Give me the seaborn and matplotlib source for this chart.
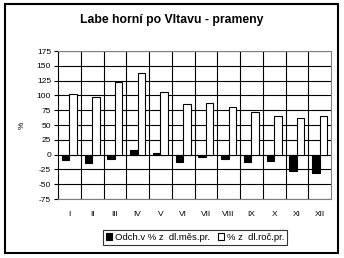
import matplotlib
matplotlib.use("Agg")
import matplotlib.pyplot as plt
import seaborn as sns
import pandas as pd
from matplotlib.patches import Rectangle

months = ["I", "II", "III", "IV", "V", "VI", "VII", "VIII", "IX", "X", "XI", "XII"]
odch = [-9, -14, -7, 7, 2, -13, -4, -8, -13, -11, -28, -31]
pct_roc = [102, 97, 123, 138, 105, 85, 88, 80, 72, 66, 62, 66]
series_names = ["Odch.v % z  dl.měs.pr.", "% z  dl.roč.pr."]
yticks = [-75, -50, -25, 0, 25, 50, 75, 100, 125, 150, 175]

df = pd.DataFrame({
    "month": months * 2,
    "value": odch + pct_roc,
    "series": [series_names[0]] * 12 + [series_names[1]] * 12,
})

sns.set_style("white")
plt.rcParams["font.family"] = ["Liberation Sans", "DejaVu Sans"]
plt.rcParams["text.color"] = "black"
plt.rcParams["axes.labelcolor"] = "black"
plt.rcParams["xtick.color"] = "black"
plt.rcParams["ytick.color"] = "black"

fig = plt.figure(figsize=(3.44, 2.58), dpi=100)
ax = fig.add_axes([58 / 344, 1 - 199 / 258, (331 - 58) / 344, (199 - 51) / 258])

sns.barplot(data=df, x="month", y="value", hue="series", order=months,
            hue_order=series_names, palette=["black", "white"],
            edgecolor="black", linewidth=0.8, width=0.66, gap=0,
            errorbar=None, ax=ax, zorder=3, legend=True)

ax.set_ylim(-75, 175)
ax.set_xlim(-0.5, 11.5)
ax.set_yticks(yticks)
ax.set_yticklabels([str(v) for v in yticks], fontsize=6)
ax.set_xticks(range(12))
ax.set_xticklabels(months, fontsize=6)
ax.tick_params(axis="x", length=0, pad=9, colors="black")
ax.tick_params(axis="y", length=3, width=0.8, colors="black", direction="out", pad=2, left=True)
ax.set_xlabel("")
ax.set_ylabel("%", fontsize=6, labelpad=8, color="black")

for v in yticks:
    ax.axhline(v, color="black", lw=0.8, zorder=1)
for i in range(1, 12):
    ax.axvline(i - 0.5, color="black", lw=0.8, zorder=1)

for s in ["top", "right", "bottom"]:
    ax.spines[s].set_color("#808080")
    ax.spines[s].set_linewidth(0.8)
ax.spines["left"].set_color("black")
ax.spines["left"].set_linewidth(0.8)
ax.grid(False)

ax.get_legend().remove()
handles, labels = ax.get_legend_handles_labels()
leg = fig.legend(handles[:2], labels[:2], loc="center", bbox_to_anchor=(195 / 344, 1 - 237.5 / 258),
                 ncol=2, fontsize=6.8, frameon=True, fancybox=False, edgecolor="black",
                 handlelength=0.7, handleheight=0.7, handletextpad=0.3, columnspacing=0.8,
                 borderpad=0.3, borderaxespad=0, labelcolor="black")
leg.get_frame().set_linewidth(0.8)

fig.text(172 / 344, 1 - 20 / 258, "Labe horní po Vltavu - prameny", ha="center", va="center",
         fontsize=8.8, fontweight="bold", color="black")

fig.patches.append(Rectangle((5 / 344, 1 - 253 / 258), 333 / 344, 249 / 258, transform=fig.transFigure,
                             fill=False, edgecolor="black", linewidth=1.5))

fig.savefig("out.png", dpi=100)
